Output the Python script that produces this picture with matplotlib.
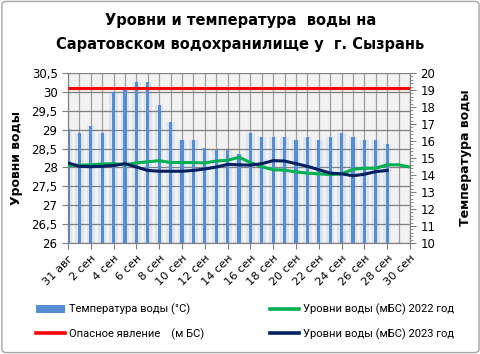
import matplotlib
matplotlib.use("Agg")
import matplotlib.pyplot as plt
from matplotlib.lines import Line2D
from matplotlib.patches import Patch, FancyBboxPatch
from matplotlib.ticker import MultipleLocator, FuncFormatter
import numpy as np

days = ["31 авг"] + [f"{d} сен" for d in range(1, 31)]
temperature = [16.7, 16.5, 16.9, 16.5, 18.9, 19.1, 19.45, 19.45, 18.1, 17.1,
               16.05, 16.05, 15.6, 15.5, 15.5, 15.25, 16.5, 16.25, 16.25, 16.25,
               16.05, 16.25, 16.05, 16.25, 16.5, 16.25, 16.05, 16.05, 15.85]
level_2022 = [28.05, 28.06, 28.07, 28.09, 28.10, 28.07, 28.12, 28.15, 28.18, 28.13,
              28.13, 28.13, 28.12, 28.17, 28.19, 28.27, 28.13, 28.02, 27.94, 27.93,
              27.88, 27.85, 27.83, 27.81, 27.83, 27.95, 27.98, 27.98, 28.07, 28.07, 28.01]
level_2023 = [28.12, 28.03, 28.02, 28.03, 28.05, 28.10, 28.01, 27.92, 27.90, 27.90,
              27.90, 27.92, 27.96, 28.01, 28.08, 28.07, 28.06, 28.10, 28.18, 28.17,
              28.10, 28.03, 27.94, 27.85, 27.83, 27.78, 27.82, 27.89, 27.92]
danger_level = 30.1

plt.rcParams['font.family'] = ['DejaVu Sans']

fig = plt.figure(figsize=(4.81, 3.54), dpi=100)
fig.patches.append(FancyBboxPatch((0.004, 0.004), 0.992, 0.992, boxstyle="round,pad=0,rounding_size=0.01",
                                  transform=fig.transFigure, facecolor='white', edgecolor='#A6A6A6',
                                  linewidth=1.0, zorder=-10))

ax = fig.add_axes([68/481, 1-243/354, 342/481, 170/354])
ax2 = ax.twinx()
ax.set_zorder(ax2.get_zorder()+1)
ax.patch.set_visible(False)
ax2.set_facecolor('#F2F2F2')
ax2.patch.set_visible(True)

x_all = np.arange(len(days))
x_t = np.arange(len(temperature))

# gridlines (drawn on the background axes)
for xv in x_all:
    ax2.axvline(xv, color='#A0A0A0', linewidth=0.9, zorder=1)
for v in np.arange(10, 20.01, 10/9):
    ax2.axhline(v, color='#808080', linewidth=0.9, zorder=1)

# bars on right axis (with soft glow)
ax2.bar(x_t, temperature, width=0.75, color='#558ED5', alpha=0.12, zorder=2, linewidth=0)
ax2.bar(x_t, temperature, width=0.28, color='#558ED5', zorder=3, linewidth=0)
ax2.set_ylim(10, 20)
ax2.yaxis.set_major_locator(MultipleLocator(1))
ax2.yaxis.set_minor_locator(MultipleLocator(0.2))
ax2.tick_params(axis='y', which='major', labelsize=8.5, length=4, color='#808080', direction='out')
ax2.tick_params(axis='y', which='minor', length=2.5, color='#808080')

ax.set_xlim(0, 30)
ax.set_ylim(26, 30.5)
ax.yaxis.set_major_locator(MultipleLocator(0.5))
ax.yaxis.set_major_formatter(FuncFormatter(lambda v, p: (f"{v:g}").replace('.', ',')))
ax.tick_params(axis='y', labelsize=8.5, length=4, color='#808080')

ax.plot(x_all, [danger_level]*len(days), color='#FF0000', linewidth=2.2, zorder=5, solid_capstyle='butt')
ax.plot(x_all, level_2022, color='#00B050', linewidth=2.2, zorder=6, solid_joinstyle='round')
ax.plot(np.arange(len(level_2023)), level_2023, color='#002060', linewidth=2.2, zorder=7, solid_joinstyle='round')

ax.set_xticks(x_all[::2])
ax.set_xticklabels(days[::2], rotation=45, ha='right', rotation_mode='anchor', fontsize=8.2)
ax.tick_params(axis='x', length=4, color='#808080')
ax2.tick_params(axis='x', which='both', length=0, labelbottom=False)

for a in (ax, ax2):
    for s in a.spines.values():
        s.set_color('#808080')
    a.spines['top'].set_visible(False)

ax.set_ylabel("Уровни воды", fontsize=9, fontweight='bold', labelpad=6)
ax2.set_ylabel("Температура воды", fontsize=9, fontweight='bold', labelpad=17)

fig.text(0.5, 1-20/354, "Уровни и температура  воды на", ha='center', va='center',
         fontsize=10.5, fontweight='bold')
fig.text(0.5, 1-45/354, "Саратовском водохранилище у  г. Сызрань", ha='center', va='center',
         fontsize=10.5, fontweight='bold')

handles = [Patch(facecolor='#558ED5', edgecolor='none'),
           Line2D([], [], color='#FF0000', linewidth=2.6),
           Line2D([], [], color='#00B050', linewidth=2.6),
           Line2D([], [], color='#002060', linewidth=2.6)]
labels = ["Температура воды (°C)", "Опасное явление    (м БС)",
          "Уровни воды (мБС) 2022 год", "Уровни воды (мБС) 2023 год"]
fig.legend(handles, labels, loc='lower left', bbox_to_anchor=(0.055, 0.012), ncol=2,
           frameon=False, prop={'family': 'Roboto', 'size': 8}, handlelength=2.6,
           handleheight=0.6, handletextpad=0.3, columnspacing=6.0, labelspacing=1.15)

fig.savefig("out.png", dpi=100)
